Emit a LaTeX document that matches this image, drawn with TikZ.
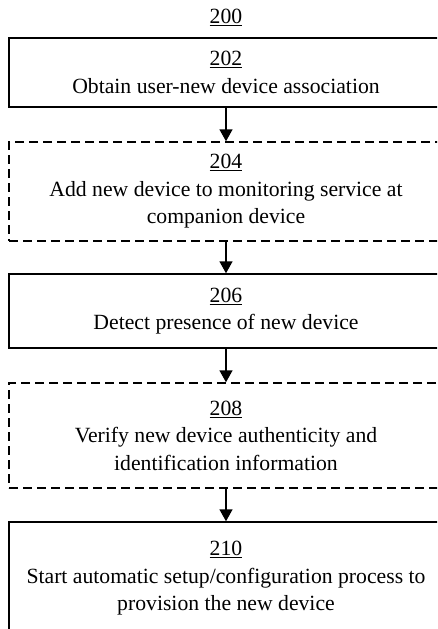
\documentclass[tikz,border=0pt]{standalone}
\usepackage{fontspec}
\setmainfont{Liberation Serif}
\usetikzlibrary{arrows.meta}

\tikzset{
  stepbox/.style={draw, line width=1.4pt, minimum width=434pt, inner sep=0pt,
    align=center, font=\fontsize{21.7}{27.5}\selectfont},
  optbox/.style={stepbox, dash pattern=on 9pt off 5pt},
  flow/.style={-{Triangle[width=13pt,length=12pt]}, line width=1.4pt},
}

\begin{document}
\begin{tikzpicture}[x=1pt,y=-1pt]
		\useasboundingbox (0,0) rectangle (437,629);
		\clip (0,0) rectangle (437,629);

		\node[font=\fontsize{21.7}{26}\selectfont] (fig) at (226,17) {\underline{200}};

		\node[stepbox, minimum height=69pt] (s202) at (226,72.5)
			{\underline{202}\\Obtain user-new device association};
		\node[optbox, minimum height=99pt] (s204) at (226,191.5)
			{\underline{204}\\Add new device to monitoring service at\\companion device};
		\node[stepbox, minimum height=74pt] (s206) at (226,311)
			{\underline{206}\\Detect presence of new device};
		\node[optbox, minimum height=105pt] (s208) at (226,435.5)
			{\underline{208}\\Verify new device authenticity and\\identification information};
		\node[stepbox, minimum height=113pt] (s210) at (226,578.5)
			{\underline{210}\\Start automatic setup/configuration process to\\provision the new device};

		\draw[flow] (s202) -- (s204);
		\draw[flow] (s204) -- (s206);
		\draw[flow] (s206) -- (s208);
		\draw[flow] (s208) -- (s210);
	\end{tikzpicture}
\end{document}
